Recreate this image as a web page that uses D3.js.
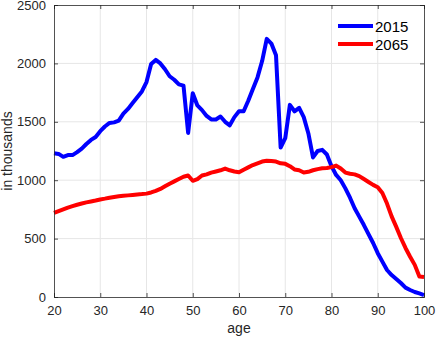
<!DOCTYPE html>
<html>
<head>
<meta charset="utf-8">
<script src="https://cdn.jsdelivr.net/npm/d3@7"></script>
<style>
	body { margin: 0; background: #fff; }
	svg text { font-family: "Liberation Sans", Arial, sans-serif; }
</style>
</head>
<body>
<div id="chart"></div>
<script>
// ages 20..100
var ages = d3.range(20, 101);

var pop2015 = [
	1230, 1225, 1200, 1215, 1215, 1240, 1270, 1310, 1345, 1370,
	1420, 1460, 1490, 1495, 1510, 1570, 1610, 1660, 1710, 1760,
	1840, 1995, 2030, 2000, 1950, 1890, 1860, 1820, 1810, 1405,
	1745, 1640, 1600, 1550, 1520, 1520, 1545, 1500, 1470, 1540,
	1590, 1590, 1680, 1780, 1880, 2020, 2210, 2170, 2070, 1280,
	1360, 1645, 1590, 1620, 1540, 1400, 1195, 1250, 1260, 1220,
	1120, 1045, 1000, 930, 850, 760, 688, 616, 539, 462,
	375, 303, 231, 188, 154, 120, 80, 60, 43, 31,
	17
];

var pop2065 = [
	720, 735, 750, 765, 778, 790, 800, 810, 818, 826,
	835, 842, 850, 856, 862, 866, 870, 874, 878, 881,
	885, 895, 908, 925, 948, 970, 990, 1010, 1030, 1040,
	995, 1010, 1040, 1050, 1065, 1075, 1085, 1100, 1085, 1075,
	1068, 1090, 1110, 1130, 1145, 1160, 1167, 1165, 1160, 1145,
	1140, 1120, 1092, 1085, 1066, 1072, 1085, 1095, 1102, 1104,
	1112, 1125, 1100, 1065, 1055, 1050, 1035, 1010, 985, 960,
	940, 890, 800, 690, 600, 505, 420, 345, 275, 175,
	172
];

var seriesNames = ["2015", "2065"];
var seriesColors = ["#0000ff", "#ff0000"];
var xTicks = [20, 30, 40, 50, 60, 70, 80, 90, 100];
var yTicks = [0, 500, 1000, 1500, 2000, 2500];

var W = 436, H = 338;
var margin = {left: 54, right: 12, top: 5, bottom: 41};
var iw = W - margin.left - margin.right;
var ih = H - margin.top - margin.bottom;

var svg = d3.select("#chart").append("svg")
	.attr("width", W)
	.attr("height", H);

var x = d3.scaleLinear().domain([20, 100]).range([0, iw]);
var y = d3.scaleLinear().domain([0, 2500]).range([ih, 0]);

var g = svg.append("g")
	.attr("transform", "translate(" + margin.left + "," + margin.top + ")");

// grid
g.append("g").selectAll("line")
	.data(xTicks.slice(1, -1)).enter().append("line")
	.attr("x1", function(d){ return x(d); })
	.attr("x2", function(d){ return x(d); })
	.attr("y1", 0).attr("y2", ih)
	.attr("stroke", "#e6e6e6").attr("stroke-width", 1);
g.append("g").selectAll("line")
	.data(yTicks.slice(1, -1)).enter().append("line")
	.attr("y1", function(d){ return y(d); })
	.attr("y2", function(d){ return y(d); })
	.attr("x1", 0).attr("x2", iw)
	.attr("stroke", "#e6e6e6").attr("stroke-width", 1);

// lines
var series = [pop2015, pop2065];
var line = d3.line()
	.x(function(d, i){ return x(ages[i]); })
	.y(function(d){ return y(d); });

g.selectAll("path.series")
	.data(series).enter().append("path")
	.attr("class", "series")
	.attr("d", line)
	.attr("fill", "none")
	.attr("stroke", function(d, i){ return seriesColors[i]; })
	.attr("stroke-width", 4)
	.attr("stroke-linejoin", "round");

// axes (inward ticks, box)
var axisColor = "#262626";
var fmt = d3.format("d");
var axBottom = g.append("g").attr("transform", "translate(0," + ih + ")")
	.call(d3.axisBottom(x).tickValues(xTicks).tickSize(-4).tickPadding(9).tickFormat(fmt));
var axTop = g.append("g")
	.call(d3.axisTop(x).tickValues(xTicks).tickSize(-4).tickFormat(""));
var axLeft = g.append("g")
	.call(d3.axisLeft(y).tickValues(yTicks).tickSize(-4).tickPadding(8).tickFormat(fmt));
var axRight = g.append("g").attr("transform", "translate(" + iw + ",0)")
	.call(d3.axisRight(y).tickValues(yTicks).tickSize(-4).tickFormat(""));

[axBottom, axTop, axLeft, axRight].forEach(function(a){
	a.select(".domain").attr("stroke", axisColor).attr("stroke-width", 0.8);
	a.selectAll(".tick line").attr("stroke", axisColor).attr("stroke-width", 0.8);
	a.selectAll(".tick text").attr("fill", axisColor).attr("font-size", 13)
		.style("font-family", "Liberation Sans, Arial, sans-serif");
});

// axis labels
svg.append("text")
	.attr("x", margin.left + iw / 2)
	.attr("y", 333)
	.attr("text-anchor", "middle")
	.attr("font-size", 14)
	.attr("fill", axisColor)
	.text("age");

svg.append("text")
	.attr("transform", "translate(12," + (margin.top + ih / 2) + ") rotate(-90)")
	.attr("text-anchor", "middle")
	.attr("font-size", 14)
	.attr("fill", axisColor)
	.text("in thousands");

// legend
var legend = g.append("g").attr("transform", "translate(" + (338 - margin.left) + ",0)");
seriesNames.forEach(function(name, i){
	var ly = 21 + i * 18;
	legend.append("line")
		.attr("x1", 0).attr("x2", 35)
		.attr("y1", ly).attr("y2", ly)
		.attr("stroke", seriesColors[i])
		.attr("stroke-width", 4);
	legend.append("text")
		.attr("x", 37).attr("y", ly + 5.5)
		.attr("font-size", 15)
		.attr("fill", "#000")
		.text(name);
});
</script>
</body>
</html>
